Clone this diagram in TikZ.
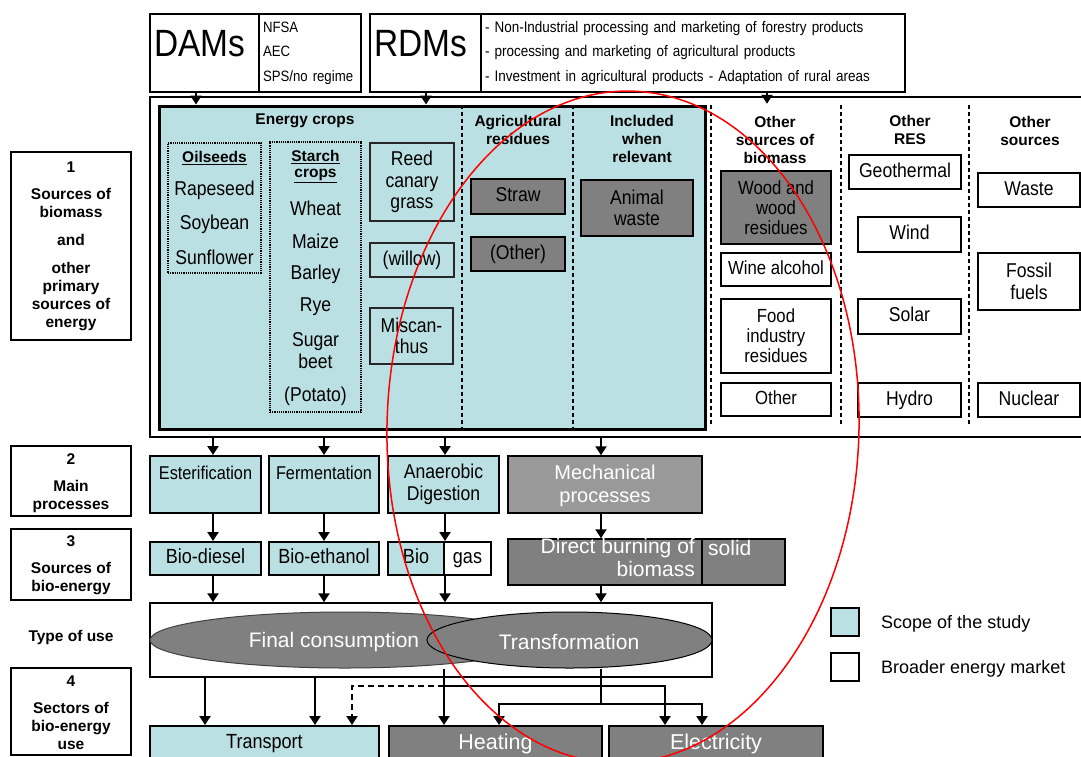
\documentclass[tikz,border=0pt]{standalone}
\usepackage{fontspec}
\setmainfont{Liberation Sans}[FakeStretch=0.88]
\newfontfamily\plainsans{Liberation Sans}
\usetikzlibrary{arrows.meta,shapes.geometric}
\definecolor{scope}{HTML}{BBE0E3}
\definecolor{midgray}{HTML}{808080}
\definecolor{lightgray2}{HTML}{999999}
\newcommand\setfs[2]{\fontsize{#1}{#2}\selectfont}
\begin{document}
\begin{tikzpicture}[x=1pt,y=-1pt,
  box/.style={draw, line width=2pt, inner sep=0pt, align=center},
  sbox/.style={box, fill=scope},
  gbox/.style={draw, line width=1.2pt, fill=midgray, inner sep=0pt, align=center},
  thinbox/.style={draw=black!85, line width=1.2pt, inner sep=0pt, align=center},
  dotbox/.style={draw, densely dotted, line width=1.2pt, inner sep=0pt},
  lab/.style={font=\plainsans\bfseries\setfs{15.5}{18}, align=center, inner sep=0pt},
  crop/.style={font=\setfs{20}{21.5}, align=center},
  oneline/.style={text height=14pt, text depth=4pt},
  proc/.style={font=\setfs{18.5}{21}, align=center, inner sep=0pt},
  wlab/.style={font=\plainsans\setfs{21}{23}, text=white, align=center, inner sep=0pt},
  arr/.style={line width=2.2pt, -{Triangle[width=11pt,length=9pt]}},
  sepline/.style={dash pattern=on 4pt off 3pt, line width=1.5pt},
]
\useasboundingbox (0,0) rectangle (1081,756);
\clip (0,0) rectangle (1081,756);
\fill[white] (0,0) rectangle (1081,756);

% ---------- measure boxes at the top
\node[box, minimum width=109, minimum height=78] (dams) at (204.5,53) {};
\node[box, minimum width=102, minimum height=78, text width=94, align=left,
      font=\setfs{15}{24.5}] (damsreg) at (310,53) {NFSA\\AEC\\SPS/no regime};
\node[font=\setfs{38}{40}] at (200,44) {DAMs};
\node[box, minimum width=111, minimum height=78] (rdms) at (425.5,53) {};
\node[box, minimum width=424, minimum height=78, text width=416, align=left,
      font=\setfs{15.3}{24.5}] (rdmsreg) at (693,53)
  {- Non-Industrial processing and marketing of forestry products\\
   - processing and marketing of agricultural products\\
   - Investment in agricultural products - Adaptation of rural areas};
\node[font=\setfs{38}{40}] at (421,44) {RDMs};

% ---------- sources of biomass and other primary energy
\node[draw, line width=2.5pt, fill=white, minimum width=945, minimum height=340, inner sep=0pt] (src) at (622.5,267) {};
\node[draw, line width=3pt, fill=scope, minimum width=546, minimum height=323, inner sep=0pt] (ecrop) at (432,267.5) {};

\coordinate (d1) at (462,0);
\coordinate (d2) at (573,0);
\draw[sepline] (ecrop.north -| d1) -- (ecrop.south -| d1);
\draw[sepline] (ecrop.north -| d2) -- (ecrop.south -| d2);
\draw[sepline] (711,105) -- (711,425);
\draw[sepline] (841,105) -- (841,425);
\draw[sepline] (969,105) -- (969,425);

\node[lab] (hec) at (305,121) {Energy crops};
\node[lab] (har) at (518,130) {Agricultural\\residues};
\node[lab] (hin) at (642,139) {Included\\when\\relevant};
\node[lab] (hob) at (775,140) {Other\\sources of\\biomass};
\node[lab] (hre) at (910,130) {Other\\RES};
\node[lab] (hos) at (1030,131) {Other\\sources};

% oilseeds
\node[dotbox, minimum width=93, minimum height=130] (oil) at (214.5,208) {};
\node[lab] at (214.5,158) {\underline{Oilseeds}};
\node[crop] at (214.5,190) {Rapeseed};
\node[crop] at (214.5,224) {Soybean};
\node[crop] at (214.5,257) {Sunflower};

% starch crops
\node[dotbox, minimum width=91, minimum height=270] (sta) at (315.5,277) {};
\node[lab] at (315.5,157) {\underline{Starch}};
\node[lab] at (315.5,176) {\underline{crops}};
\node[crop] at (315.5,208) {Wheat};
\node[crop] at (315.5,241) {Maize};
\node[crop] at (315.5,274) {Barley};
\node[crop] at (315.5,307) {Rye};
\node[crop] at (315.5,350.5) {Sugar\\beet};
\node[crop] at (315.5,396) {(Potato)};

% perennial crops
\node[thinbox, crop, minimum width=84, minimum height=78] (reed) at (412,182) {Reed\\canary\\grass};
\node[thinbox, crop, oneline, minimum width=84, minimum height=34] (wil) at (412,260) {(willow)};
\node[thinbox, crop, minimum width=83, minimum height=56] (mis) at (411.5,336) {Miscan-\\thus};

% residues
\node[gbox, crop, oneline, minimum width=94, minimum height=35] (straw) at (518,196.5) {Straw};
\node[gbox, crop, oneline, minimum width=94, minimum height=34] (oth1) at (518,254) {(Other)};
\node[gbox, crop, minimum width=112, minimum height=56] (ani) at (637,208) {Animal\\waste};

% other sources of biomass
\node[gbox, crop, font=\setfs{19}{20}, minimum width=110, minimum height=73] (wood) at (776,207.5) {Wood and\\wood\\residues};
\node[box, crop, oneline, font=\setfs{19}{20}, minimum width=110, minimum height=33] (wine) at (776,269.5) {Wine alcohol};
\node[box, crop, font=\setfs{19}{20}, minimum width=110, minimum height=74] (food) at (776,336) {Food\\industry\\residues};
\node[box, crop, oneline, font=\setfs{19}{20}, minimum width=110, minimum height=33] (oth2) at (776,399.5) {Other};

% other renewables
\node[box, crop, oneline, minimum width=112, minimum height=34] (geo) at (905,172) {Geothermal};
\node[box, crop, oneline, minimum width=103, minimum height=35] (wind) at (909.5,234.5) {Wind};
\node[box, crop, oneline, minimum width=103, minimum height=35] (sol) at (909.5,316.5) {Solar};
\node[box, crop, oneline, minimum width=103, minimum height=34] (hyd) at (909.5,400) {Hydro};

% other sources
\node[box, crop, oneline, minimum width=102, minimum height=34] (was) at (1029,190) {Waste};
\node[box, crop, minimum width=102, minimum height=57] (fos) at (1029,281.5) {Fossil\\fuels};
\node[box, crop, oneline, minimum width=102, minimum height=34] (nuc) at (1029,400) {Nuclear};

% ---------- main processes
\node[sbox, minimum width=111, minimum height=57] (est) at (205.5,484.5) {};
\node[proc] at (205.5,473) {Esterification};
\node[sbox, minimum width=110, minimum height=57] (fer) at (324,484.5) {};
\node[proc] at (324,473) {Fermentation};
\node[sbox, crop, minimum width=111, minimum height=57, inner sep=0pt] (ana) at (443.5,484.5) {Anaerobic\\Digestion};
\node[draw, line width=1.5pt, fill=lightgray2, minimum width=194, minimum height=57, inner sep=0pt] (mec) at (605,484.5) {};
\node[wlab, font=\plainsans\setfs{20}{23}] at (605,486) {Mechanical\\processes};

% ---------- sources of bio-energy
\node[sbox, crop, oneline, font=\setfs{20.5}{22}, minimum width=111, minimum height=33, inner sep=0pt] (bdi) at (205.5,558.5) {Bio-diesel};
\node[sbox, crop, oneline, font=\setfs{20.5}{22}, minimum width=110, minimum height=33, inner sep=0pt] (bet) at (324,558.5) {Bio-ethanol};
\node[sbox, crop, oneline, font=\setfs{20.5}{22}, minimum width=56, minimum height=33, inner sep=0pt] (bgl) at (416,558.5) {Bio};
\node[box, crop, oneline, font=\setfs{20.5}{22}, minimum width=47, minimum height=33, inner sep=0pt] (bgr) at (467.5,558.5) {gas};
\node[draw, line width=1.5pt, fill=midgray, minimum width=194, minimum height=46, inner sep=0pt] (dbl) at (605,562) {};
\node[draw, line width=1.5pt, fill=midgray, minimum width=83, minimum height=46, inner sep=0pt] (dbr) at (743.5,562) {};
\node[wlab, anchor=east] at (695,548) {Direct burning of};
\node[wlab, anchor=east] at (695,569) {biomass};
\node[wlab, anchor=west] at (708,548) {solid};

% ---------- type of use
\node[draw, line width=1.5pt, fill=white, minimum width=562, minimum height=74, inner sep=0pt] (use) at (431,640) {};
\node[ellipse, draw=black!75, line width=1pt, fill=midgray, minimum width=390, minimum height=56, inner sep=0pt] (fin) at (345,640) {};
\node[ellipse, draw, line width=1pt, fill=midgray, minimum width=285, minimum height=56, inner sep=0pt] (trf) at (569.5,640) {};
\node[wlab] at (334,642) {Final consumption};
\node[wlab] at (569,642) {Transformation};

% ---------- sectors of bio-energy use
\node[sbox, minimum width=229, minimum height=50] (tra) at (264.5,751) {};
\node[crop, font=\setfs{20.5}{22}] at (264.5,744) {Transport};
\node[box, fill=midgray, minimum width=213, minimum height=50] (hea) at (495.5,751) {};
\node[wlab, font=\plainsans\setfs{21.5}{23}] at (495.5,744) {Heating};
\node[box, fill=midgray, minimum width=214, minimum height=50] (ele) at (716,751) {};
\node[wlab, font=\plainsans\setfs{21.5}{23}] at (716,744) {Electricity};

% ---------- row labels
\node[box, minimum width=120, minimum height=188] (r1) at (71,246) {};
\node[lab] at (71,246.5) {1\\[9pt]Sources of\\biomass\\[10pt]and\\[10pt]other\\primary\\sources of\\energy};
\node[box, minimum width=120, minimum height=70] (r2) at (71,481) {};
\node[lab] at (71,483) {2\\[9pt]Main\\processes};
\node[box, minimum width=120, minimum height=71] (r3) at (71,564.5) {};
\node[lab] at (71,565) {3\\[9pt]Sources of\\bio-energy};
\node[lab] (r0) at (71,637) {Type of use};
\node[box, minimum width=120, minimum height=87] (r4) at (71,711.5) {};
\node[lab] at (71,713) {4\\[9pt]Sectors of\\bio-energy\\use};

% ---------- legend
\node[draw, line width=1.5pt, fill=scope, minimum width=28, minimum height=28, inner sep=0pt] (lg1) at (845,622) {};
\node[draw, line width=1.5pt, fill=white, minimum width=28, minimum height=28, inner sep=0pt] (lg2) at (845,667) {};
\node[font=\plainsans\setfs{18}{20}, anchor=west, inner sep=0pt] (lt1) at (881,624) {Scope of the study};
\node[font=\plainsans\setfs{18}{20}, anchor=west, inner sep=0pt] (lt2) at (881,669) {Broader energy market};

% ---------- connectors
\coordinate (a1) at (196,0);
\coordinate (a2) at (426,0);
\coordinate (a3) at (767,0);
\draw[arr] (dams.south -| a1) -- (ecrop.north -| a1);
\draw[arr] (rdms.south -| a2) -- (ecrop.north -| a2);
\draw[arr, shorten >=-8pt] (rdmsreg.south -| a3) -- (src.north -| a3);

\coordinate (c1) at (213,0);
\coordinate (c2) at (324,0);
\coordinate (c3) at (445,0);
\coordinate (c4) at (601,0);
\draw[arr] (src.south -| c1) -- (est.north -| c1);
\draw[arr] (src.south -| c2) -- (fer.north -| c2);
\draw[arr] (src.south -| c3) -- (ana.north -| c3);
\draw[arr] (src.south -| c4) -- (mec.north -| c4);
\draw[arr] (est.south -| c1) -- (bdi.north -| c1);
\draw[arr] (fer.south -| c2) -- (bet.north -| c2);
\draw[arr] (ana.south -| c3) -- (bgr.north -| c3);
\draw[arr] (mec.south -| c4) -- (dbl.north -| c4);
\draw[arr] (bdi.south -| c1) -- (use.north -| c1);
\draw[arr] (bet.south -| c2) -- (use.north -| c2);
\draw[arr] (bgr.south -| c3) -- (use.north -| c3);
\draw[arr] (dbl.south -| c4) -- (use.north -| c4);

\coordinate (k1) at (205,0);
\coordinate (k2) at (315,0);
\coordinate (k3) at (352,0);
\coordinate (k4) at (444,0);
\coordinate (k5) at (499,0);
\coordinate (k6) at (601,0);
\coordinate (k7) at (665,0);
\coordinate (k8) at (702,0);
\coordinate (j1) at (444,686);
\coordinate (j2) at (601,704);
\draw[arr] (use.south -| k1) -- (tra.north -| k1);
\draw[arr] (use.south -| k2) -- (tra.north -| k2);
\draw[arr] (fin.south -| k4) -- (hea.north -| k4);
\draw[arr, dash pattern=on 6pt off 4pt] (j1) -| (tra.north -| k3);
\draw[arr] (j1) -| (ele.north -| k7);
\draw[line width=2.2pt] (trf.south -| k6) -- (j2);
\draw[arr] (j2) -| (hea.north -| k5);
\draw[arr] (j2) -| (ele.north -| k8);

% ---------- hand-drawn red ring
\draw[red, line width=1.5pt, rotate around={-1.5:(623,427)}] (623,427) ellipse [x radius=236, y radius=336];
\end{tikzpicture}
\end{document}
